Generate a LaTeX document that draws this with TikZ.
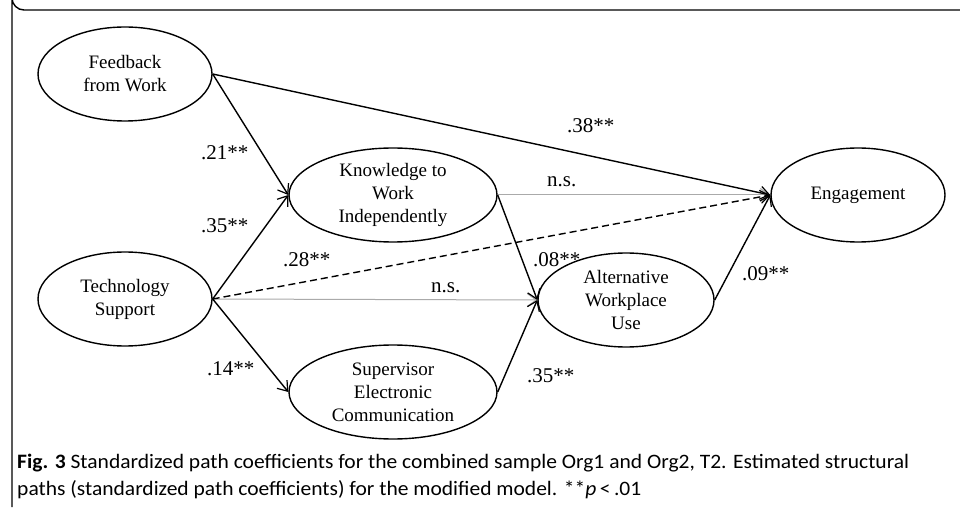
\documentclass[tikz,border=0pt]{standalone}
\usepackage{fontspec}
\setmainfont{Liberation Serif}
\newfontfamily\capfont[FakeStretch=1.05]{Carlito}
\usetikzlibrary{shapes.geometric,arrows.meta}
\tikzset{
  latent/.style={draw, line width=1.4pt, ellipse, inner sep=0pt, align=center,
    font=\fontsize{19}{23}\selectfont},
  coef/.style={anchor=base west, inner sep=0pt, font=\fontsize{21}{24}\selectfont},
  path/.style={line width=1.4pt, -{Straight Barb[length=9pt,width=13pt,line width=1.2pt]}},
  nspath/.style={line width=1pt, draw={rgb,255:red,170;green,170;blue,170},
    -{Straight Barb[length=9pt,width=13pt,line width=1.2pt]}},
  dashpath/.style={path, dash pattern=on 7pt off 4pt},
  frame/.style={line width=1.4pt},
  captext/.style={anchor=base west, inner sep=0pt, font=\capfont\fontsize{20.5}{24}\selectfont}
}
\begin{document}
\begin{tikzpicture}[x=1pt,y=-1pt]
\useasboundingbox (0,0) rectangle (960,510);
\fill[white] (0,0) rectangle (960,510);
\draw[frame] (960,10) -- (24,10) arc[start angle=90,end angle=180,radius=12] -- (12,507);

\node[latent, minimum width=174pt, minimum height=94pt] (fb) at (125,74) {Feedback\\from Work};
\node[latent, minimum width=174pt, minimum height=94pt] (ts) at (125,299) {Technology\\Support};
\node[latent, minimum width=208pt, minimum height=94pt] (kw) at (393,195) {Knowledge to\\Work\\Independently};
\node[latent, minimum width=208pt, minimum height=94pt] (se) at (393,392) {Supervisor\\Electronic\\Communication};
\node[latent, minimum width=176pt, minimum height=94pt] (aw) at (626,300) {Alternative\\Workplace\\Use};
\node[latent, minimum width=174pt, minimum height=94pt] (en) at (858,195) {Engagement};

\draw[nspath] (kw.east) -- (en.west);
\draw[nspath] (ts.east) -- (aw.west);
\draw[path] (fb.east) -- (en.west);
\draw[path] (fb.east) -- (kw.west);
\draw[path] (ts.east) -- (kw.west);
\draw[dashpath] (ts.east) -- (en.west);
\draw[path] (ts.east) -- (se.west);
\draw[path] (kw.east) -- (aw.west);
\draw[path] (se.east) -- (aw.west);
\draw[path] (aw.east) -- (en.west);

\node[coef] (l21) at (201,160) {.21**};
\node[coef] (l35a) at (201,233) {.35**};
\node[coef] (l28) at (283,267) {.28**};
\node[coef] (l14) at (207,375) {.14**};
\node[coef] (l38) at (567,133) {.38**};
\node[coef] (lns1) at (547,187) {n.s.};
\node[coef] (l08) at (533,267) {.08**};
\node[coef] (l09) at (742,280) {.09**};
\node[coef] (l35b) at (527,382) {.35**};
\node[coef] (lns2) at (431,293) {n.s.};

\node[captext] (cap1) at (17,468)
  {\textbf{Fig. 3} Standardized path coefficients for the combined sample Org1 and Org2, T2. Estimated structural};
\node[captext] (cap2) at (17,495)
  {paths (standardized path coefficients) for the modified model. **\textit{p}\,<\,.01};
\end{tikzpicture}
\end{document}
